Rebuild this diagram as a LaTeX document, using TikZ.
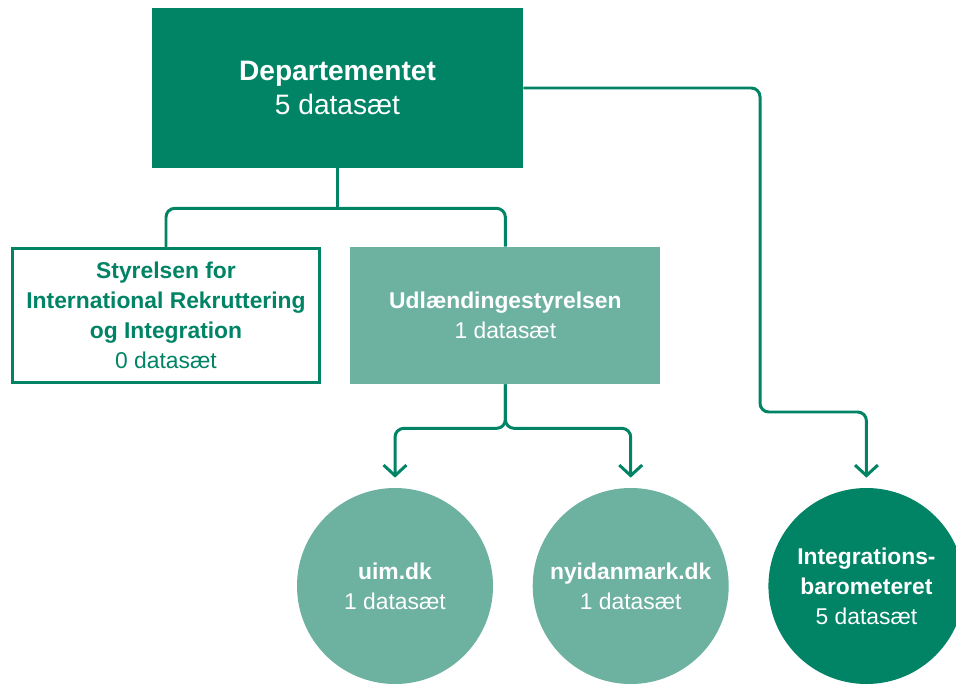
\documentclass[tikz,border=0pt]{standalone}
\usepackage{fontspec}
\setmainfont{Liberation Sans}
\usetikzlibrary{arrows.meta, positioning}

\definecolor{deptgreen}{RGB}{0,132,101}
\definecolor{palegreen}{RGB}{109,177,160}

\begin{document}
\begin{tikzpicture}[
    node distance=0.8cm,
    topbox/.style={rectangle, fill=deptgreen, text=white, minimum width=7.42cm, minimum height=3.2cm, align=center, inner sep=0pt, font=\fontsize{16}{19.5}\selectfont},
    linebox/.style={rectangle, draw=deptgreen, line width=1.7pt, text=deptgreen, minimum width=6.14cm, minimum height=2.68cm, align=center, inner sep=0pt, font=\fontsize{13}{17}\selectfont},
    fillbox/.style={rectangle, fill=palegreen, text=white, minimum width=6.2cm, minimum height=2.74cm, align=center, inner sep=0pt, font=\fontsize{13}{17}\selectfont},
    bubble/.style={circle, text=white, minimum size=3.92cm, inner sep=0pt, align=center, font=\fontsize{13}{17}\selectfont},
    link/.style={draw=deptgreen, line width=1.7pt, rounded corners=5pt},
    arrowlink/.style={link, -{Straight Barb[length=6pt, width=13pt]}, shorten >=0.2cm}
]

\useasboundingbox[fill=white] (0,0) rectangle (19.12,-13.72);

% --- Topo: Departementet ---
\node[topbox] (dep) at (6.75,-1.76)
    {\textbf{Departementet}\\5 datasæt};

% --- Styrelser ---
\node[linebox] (siri) at (3.32,-6.31)
    {\textbf{Styrelsen for}\\\textbf{International Rekruttering}\\\textbf{og Integration}\\0 datasæt};

\node[fillbox, right=0.58cm of siri] (us)
    {\textbf{Udlændingestyrelsen}\\1 datasæt};

% --- Bund: hjemmesider ---
\node[bubble, fill=palegreen] (uim) at (7.9,-11.72)
    {\textbf{uim.dk}\\1 datasæt};

\node[bubble, fill=palegreen, right=0.78cm of uim] (nyi)
    {\textbf{nyidanmark.dk}\\1 datasæt};

\node[bubble, fill=deptgreen, right=0.78cm of nyi] (integ)
    {\textbf{Integrations-}\\\textbf{barometeret}\\5 datasæt};

% === FORBINDELSER ===
\coordinate (topsplit) at ([yshift=-0.8cm]dep.south);
\draw[link] (siri.north) |- (topsplit) -| (us.north);
\draw[link] (dep.south) -- (topsplit);

\draw[arrowlink] (us.south) -- ++(0,-0.88) -| (uim.north);
\draw[arrowlink] (us.south) -- ++(0,-0.88) -| (nyi.north);

% Departementet -> barometer (uden om til højre)
\coordinate (bend) at (15.2,-8.24);
\draw[arrowlink] (dep.east) -| (bend) -| (integ.north);

\end{tikzpicture}
\end{document}
